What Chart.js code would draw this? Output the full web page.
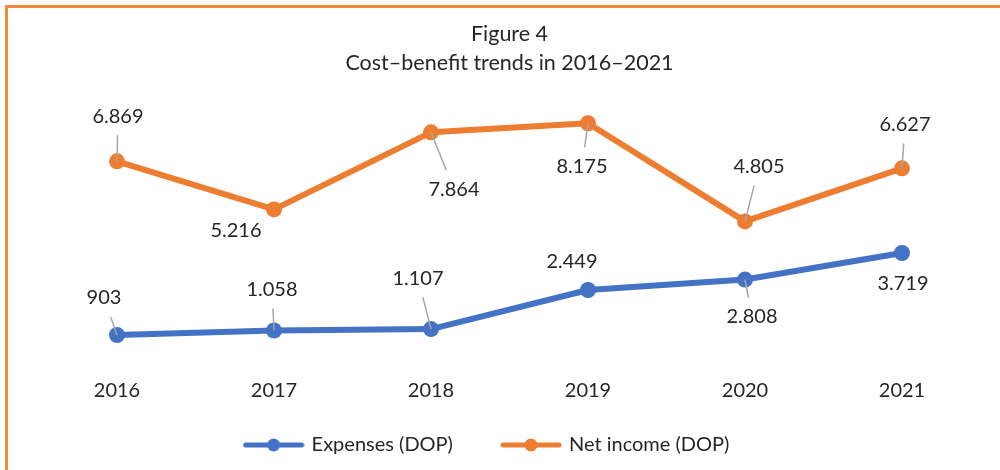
<!DOCTYPE html>
<html>
<head>
<meta charset="utf-8">
<script src="https://cdn.jsdelivr.net/npm/chart.js@4/dist/chart.umd.min.js"></script>
<style>
body{margin:0;background:#fff;}
#caja{position:relative;width:1000px;height:470px;overflow:hidden;background:#fff;}
#caja canvas{position:absolute;left:0;top:0;}
#borde{position:absolute;left:5px;top:5px;right:-20px;bottom:-20px;border-left:3px solid #F4883F;border-top:3px solid #F4883F;pointer-events:none;}
</style>
</head>
<body>
<div id="caja">
<canvas id="grafico" width="1000" height="470"></canvas>
<div id="borde"></div>
</div>
<script>
var anios=["2016","2017","2018","2019","2020","2021"];
var gastos=[903,1058,1107,2449,2808,3719];
var ingresoNeto=[6869,5216,7864,8175,4805,6627];
var nombresSeries=["Expenses (DOP)","Net income (DOP)"];
var titulo=["Figure 4","Cost\u2013benefit trends in 2016\u20132021"];

// donde va cada etiqueta respecto a su punto: [dx, dy, linea guia]
var posGastos=[[-13,-37,1],[-2,-41,1],[-13,-51,1],[-16,-28,0],[7,37,1],[1,31,0]];
var posIngreso=[[1,-45,1],[-38,21,0],[23,57,1],[-6,43,1],[14,-55,1],[3,-44,1]];

var azul="#4472C4", naranja="#ED7D31";
var fuente="Lato";
var colorTexto="#262626";

function formatea(n){
    return String(n).replace(/\B(?=(\d{3})+(?!\d))/g,".");
}

function marcaLeyenda(color){
    var c=document.createElement("canvas");
    c.width=62; c.height=16;
    var g=c.getContext("2d");
    g.strokeStyle=color; g.lineWidth=5; g.lineCap="round";
    g.beginPath(); g.moveTo(3,8); g.lineTo(59,8); g.stroke();
    g.fillStyle=color;
    g.beginPath(); g.arc(31,8,6.5,0,Math.PI*2); g.fill();
    return c;
}
var marcas=[marcaLeyenda(azul),marcaLeyenda(naranja)];

var etiquetas={
    id:"etiquetas",
    afterDatasetsDraw:function(chart){
        var ctx=chart.ctx;
        var posiciones=[posGastos,posIngreso];
        chart.data.datasets.forEach(function(ds,d){
            var meta=chart.getDatasetMeta(d);
            meta.data.forEach(function(p,i){
                var o=posiciones[d][i];
                var lx=p.x+o[0], ly=p.y+o[1];
                if(o[2]){
                    var k=19/Math.abs(o[1]);
                    ctx.save();
                    ctx.strokeStyle="#A6A6A6";
                    ctx.lineWidth=1.5;
                    ctx.beginPath();
                    ctx.moveTo(p.x,p.y);
                    ctx.lineTo(lx-o[0]*k,ly-o[1]*k);
                    ctx.stroke();
                    ctx.restore();
                }
                ctx.save();
                ctx.font="20px "+fuente;
                ctx.fillStyle=colorTexto;
                ctx.textAlign="center";
                ctx.textBaseline="middle";
                ctx.fillText(formatea(ds.data[i]),lx,ly);
                ctx.restore();
            });
        });
    }
};

// la leyenda un poco a la izquierda y el eje x sin recortar sus textos
var ajustes={
    id:"ajustes",
    afterLayout:function(chart){
        chart.legend.left-=22;
        chart.legend.right-=22;
        chart.scales.x.bottom=chart.scales.x.top+50;
    }
};

var ctx=document.getElementById("grafico").getContext("2d");
var chart=new Chart(ctx,{
    type:"line",
    data:{
        labels:anios,
        datasets:[
            {label:nombresSeries[0],data:gastos,borderColor:azul,backgroundColor:azul,
             borderWidth:6,pointRadius:8,pointBorderWidth:0,pointBackgroundColor:azul,
             borderJoinStyle:"round",borderCapStyle:"round",clip:false},
            {label:nombresSeries[1],data:ingresoNeto,borderColor:naranja,backgroundColor:naranja,
             borderWidth:6,pointRadius:8,pointBorderWidth:0,pointBackgroundColor:naranja,
             borderJoinStyle:"round",borderCapStyle:"round",clip:false}
        ]
    },
    options:{
        responsive:false,
        animation:false,
        layout:{padding:{left:38.5,right:19.5,top:0,bottom:5}},
        scales:{
            x:{
                offset:true,
                grid:{display:false,drawTicks:false},
                border:{display:false},
                ticks:{color:colorTexto,font:{family:fuente,size:20},padding:17.5},
                afterFit:function(s){ s.height=23.7; }
            },
            y:{display:false,min:0,max:9000}
        },
        plugins:{
            title:{
                display:true,
                text:titulo,
                color:colorTexto,
                font:{family:fuente,size:21.5,weight:"normal",lineHeight:1.35},
                padding:{top:19.5,bottom:21.7}
            },
            legend:{
                position:"bottom",
                labels:{
                    color:colorTexto,
                    font:{family:fuente,size:20},
                    usePointStyle:true,
                    pointStyleWidth:56,
                    padding:50,
                    generateLabels:function(c){
                        var items=Chart.defaults.plugins.legend.labels.generateLabels(c);
                        items.forEach(function(it,i){ it.pointStyle=marcas[i]; });
                        return items;
                    }
                }
            },
            tooltip:{enabled:false}
        }
    },
    plugins:[etiquetas,ajustes]
});
</script>
</body>
</html>
